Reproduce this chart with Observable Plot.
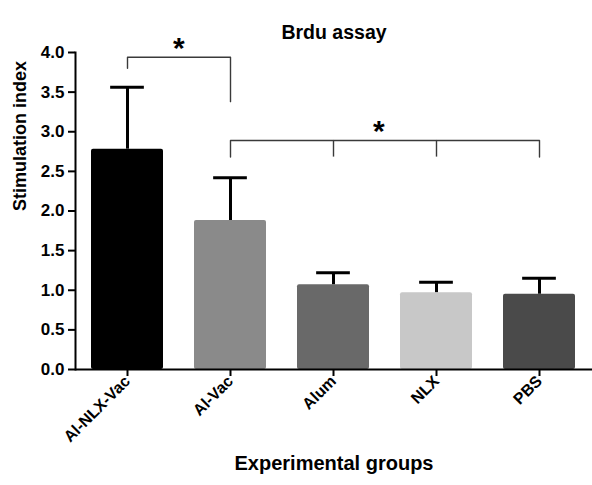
<!DOCTYPE html>
<html>
<head>
<meta charset="utf-8">
<script src="https://cdn.jsdelivr.net/npm/d3@7"></script>
<script src="https://cdn.jsdelivr.net/npm/@observablehq/plot@0.6"></script>
<style>
  html, body { margin: 0; padding: 0; background: #fff; }
  svg { font-family: "Liberation Sans", Arial, Helvetica, sans-serif; }
  #chart g[aria-label="y-axis tick label"], #chart g[aria-label="y-axis tick label"] text { font-size: 17px !important; font-weight: bold; }
  #chart g[aria-label="x-axis tick label"], #chart g[aria-label="x-axis tick label"] text { font-size: 16px !important; font-weight: bold; }
</style>
</head>
<body>
<div id="chart"></div>
<script>
const groups = ["Al-NLX-Vac", "Al-Vac", "Alum", "NLX", "PBS"];
const means = [2.78, 1.88, 1.07, 0.97, 0.95];
const errors = [0.78, 0.54, 0.15, 0.13, 0.20];
const barColors = ["#000000", "#8a8a8a", "#696969", "#c8c8c8", "#4a4a4a"];
const yTicks = [0, 0.5, 1, 1.5, 2, 2.5, 3, 3.5, 4];

// significance brackets: path points (group, level)
const bracket1 = [["Al-NLX-Vac", 3.80], ["Al-NLX-Vac", 3.94], ["Al-Vac", 3.94], ["Al-Vac", 3.38]];
const bracket2 = [["Al-Vac", 2.68], ["Al-Vac", 2.89], ["PBS", 2.89], ["PBS", 2.68]];
const bracket2Legs = ["Alum", "NLX"];
const legBottom = 2.68, legTop = 2.89;
const star1 = [{after: "Al-Vac", level: 4.05}];
const star2 = [{after: "NLX", level: 3.01}];

const data = groups.map((g, i) => ({group: g, mean: means[i], err: errors[i], top: means[i] + errors[i]}));
const b1 = bracket1.map(([g, v]) => ({g, v}));
const b2 = bracket2.map(([g, v]) => ({g, v}));
const legs = bracket2Legs.map(g => ({g}));

const W = 592, H = 485, mL = 75, mR = 0, mT = 52, mB = 116;
const pIn = 0.3, pOut = 0.155;
const step = (W - mL - mR) / (groups.length - pIn + 2 * pOut);
const band = step * (1 - pIn);
const starStyle = {x: "after", y: "level", text: () => "*", fontSize: 30, fontWeight: "bold", lineAnchor: "middle"};

const chart = Plot.plot({
  width: W, height: H,
  marginLeft: mL, marginRight: mR, marginTop: mT, marginBottom: mB,
  style: {fontFamily: '"Liberation Sans", Arial, sans-serif', fontWeight: "bold", fontSize: "16.5px", color: "#000", background: "#fff"},
  x: {domain: groups, paddingInner: pIn, paddingOuter: pOut, align: 0.5},
  y: {domain: [0, 4]},
  color: {domain: groups, range: barColors},
  marks: [
    Plot.barY(data, {x: "group", y: "mean", fill: "group", rx: 2}),
    Plot.ruleX(data, {x: "group", y1: "mean", y2: "top", stroke: "#000", strokeWidth: 3}),
    Plot.tickY(data, {x: "group", y: "top", stroke: "#000", strokeWidth: 3, insetLeft: band * 0.265, insetRight: band * 0.265}),
    Plot.line(b1, {x: "g", y: "v", stroke: "#3a3a3a", strokeWidth: 1.4}),
    Plot.line(b2, {x: "g", y: "v", stroke: "#3a3a3a", strokeWidth: 1.4}),
    Plot.ruleX(legs, {x: "g", y1: legBottom, y2: legTop, stroke: "#3a3a3a", strokeWidth: 1.4}),
    Plot.text(star1, {...starStyle, dx: -step / 2}),
    Plot.text(star2, {...starStyle, dx: -step / 2 - 6}),
    Plot.axisY({ticks: yTicks, tickFormat: d3.format(".1f"), tickSize: 7, tickPadding: 4, strokeWidth: 2, fontSize: 17, fontWeight: "bold", label: null}),
    Plot.axisX({tickSize: 7, tickPadding: 2, tickRotate: -45, strokeWidth: 2, fontSize: 16, fontWeight: "bold", label: null}),
    Plot.ruleY([0], {stroke: "#000", strokeWidth: 2}),
    Plot.frame({anchor: "left", stroke: "#000", strokeWidth: 2}),
    Plot.text(["Brdu assay"], {frameAnchor: "top", dy: -27, fontSize: 19.5, fontWeight: "bold"}),
    Plot.text(["Stimulation index"], {frameAnchor: "left", dx: -55, rotate: -90, fontSize: 18, fontWeight: "bold"}),
    Plot.text(["Experimental groups"], {frameAnchor: "bottom", dy: 100, fontSize: 20, fontWeight: "bold"})
  ]
});
document.getElementById("chart").appendChild(chart);
</script>
</body>
</html>
